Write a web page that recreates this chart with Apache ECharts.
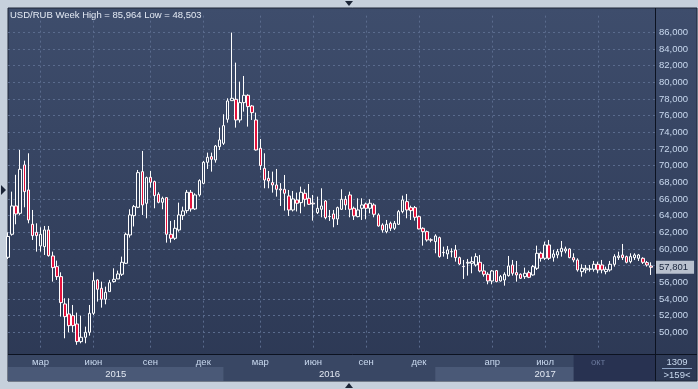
<!DOCTYPE html>
<html><head><meta charset="utf-8">
<script src="https://cdn.jsdelivr.net/npm/echarts@6/dist/echarts.min.js"></script>
<style>html,body{margin:0;padding:0;background:#c6d0dc}#c{width:698px;height:389px}</style>
</head><body><div id="c"></div>
<script>
const titleText = 'USD/RUB Week High = 85,964 Low = 48,503';
const firstWeek = '2014-12-29';
const opens = [
59.0,61.76,65.16,64.28,70.08,67.08,62.96,62.0,60.36,60.28,
62.28,59.16,57.88,56.68,53.4,52.2,52.0,51.0,48.88,49.4,
50.0,52.28,56.28,55.28,53.96,54.88,56.08,56.4,56.96,58.28,
61.68,64.0,65.0,69.28,65.48,68.6,68.08,66.56,65.6,66.16,
61.76,61.28,62.28,64.0,64.6,66.8,64.8,66.48,67.88,70.4,
71.08,70.68,72.28,72.68,75.56,77.8,77.96,75.48,77.56,78.44,
77.16,75.48,72.08,69.68,68.48,67.96,67.68,67.2,67.16,66.36,
64.68,65.88,65.56,66.68,66.08,65.5,64.36,64.76,65.76,63.9,
64.2,63.6,64.76,65.96,66.48,64.88,63.88,64.88,65.4,64.88,
65.28,64.08,62.88,62.08,63.08,62.48,62.96,64.48,65.68,64.96,
64.96,63.88,62.48,62.08,61.1,60.88,61.36,59.6,59.4,59.66,
59.88,58.96,57.9,58.3,58.28,58.08,58.4,57.36,56.96,56.16,
57.4,56.16,56.28,56.8,58.08,57.16,56.96,56.68,57.16,56.88,
57.68,59.48,58.88,60.48,59.0,59.28,59.68,59.76,60.0,58.96,
58.68,57.28,57.48,57.56,57.56,58.16,58.08,57.28,57.48,58.16,
58.96,59.28,59.08,58.48,58.96,58.88,58.88,58.36,57.96];
const closes = [
61.5,65.16,64.2,69.56,66.88,63.48,61.6,61.6,61.76,62.28,
59.2,57.76,56.68,53.56,51.88,50.8,50.8,48.88,49.4,50.0,
52.28,56.2,55.16,53.96,54.8,55.96,56.36,57.0,58.4,61.76,
64.08,65.08,69.16,65.28,68.56,68.0,66.4,65.6,66.08,61.76,
61.28,62.48,64.08,64.56,66.8,64.8,66.48,68.2,70.4,71.0,
70.76,72.36,73.08,74.8,77.76,78.08,75.48,77.56,78.44,77.08,
76.36,71.88,70.0,68.28,68.16,67.68,67.16,67.08,66.68,64.68,
66.0,65.48,66.8,65.96,65.36,65.4,64.88,65.16,63.76,63.88,
63.6,64.96,65.96,65.28,64.76,63.96,64.68,65.28,64.88,65.48,
64.16,62.76,62.28,62.96,62.48,63.08,64.48,65.88,64.68,64.6,
63.8,62.4,62.08,61.08,61.06,61.56,59.08,59.56,59.88,59.68,
58.96,58.2,57.88,58.4,58.48,59.08,57.36,56.96,56.16,57.36,
56.08,56.68,56.96,57.96,57.08,56.88,56.48,57.08,56.6,57.88,
59.48,58.88,60.48,58.88,59.4,59.68,60.08,60.0,58.96,58.68,
57.48,57.68,57.68,57.6,58.16,57.48,57.48,57.56,58.16,59.08,
59.16,58.96,58.4,59.08,59.28,59.28,58.4,58.08,57.801];
const lows = [
58.8,61.6,62.96,64.08,65.0,63.08,61.08,59.68,59.68,59.28,
59.08,56.08,56.28,51.88,49.28,50.0,50.0,48.503,48.68,48.68,
49.6,52.08,53.68,52.96,53.36,54.88,55.96,56.4,56.76,58.2,
61.36,62.7,64.9,64.08,63.68,67.36,64.88,65.48,64.76,60.76,
60.76,61.08,62.08,63.48,64.28,64.48,64.68,66.28,67.76,69.6,
69.28,70.36,71.88,72.48,75.16,77.8,74.56,75.16,76.48,74.68,
75.48,71.8,69.48,67.28,67.28,66.76,66.28,65.16,64.6,63.96,
64.5,64.5,64.28,65.08,65.28,63.4,64.2,63.8,63.56,63.36,
62.6,62.88,64.68,64.68,63.8,63.48,63.8,63.48,63.56,64.28,
63.8,62.68,61.96,61.88,62.16,62.28,62.88,64.28,63.68,63.48,
63.4,62.36,60.4,60.88,60.8,59.48,58.96,59.08,58.8,59.0,
58.48,58.08,56.4,56.8,57.08,57.88,57.2,56.68,55.76,55.76,
56.0,56.08,55.6,56.68,56.8,56.08,56.4,56.4,56.5,56.8,
57.48,58.48,58.68,58.68,58.48,58.88,59.08,59.48,58.88,58.4,
57.28,56.68,57.08,57.28,57.28,57.08,57.08,56.96,57.28,57.88,
58.68,58.68,58.28,58.28,58.68,58.56,58.2,57.88,56.88];
const highs = [
62.0,66.88,68.9,71.88,70.6,71.48,64.68,63.08,62.6,62.76,
62.76,59.68,58.6,57.2,54.08,54.08,53.28,52.36,52.0,50.68,
53.28,57.2,56.36,56.08,55.48,56.28,57.68,57.4,59.08,61.96,
64.76,65.28,69.48,71.76,68.68,69.36,68.2,66.8,66.28,66.2,
63.36,63.48,65.56,65.08,67.08,67.08,66.68,68.36,70.56,71.56,
71.56,72.48,74.56,76.16,78.08,85.964,82.36,80.08,80.76,78.56,
77.28,76.36,73.2,71.48,69.36,69.28,69.6,67.9,68.88,67.08,
66.96,66.76,67.48,67.16,67.8,66.48,66.28,67.28,65.88,64.68,
64.68,65.08,67.16,66.36,66.88,65.08,66.08,66.08,65.56,65.96,
65.48,64.28,63.08,63.48,63.28,63.36,64.68,66.4,66.6,65.2,
65.16,64.0,62.6,62.2,61.28,61.76,61.48,60.28,60.36,60.08,
60.48,59.08,58.68,58.8,59.08,59.48,59.28,58.16,57.2,57.48,
57.48,56.88,57.2,59.16,58.68,58.56,57.08,57.76,57.4,58.08,
60.4,59.68,60.88,61.08,59.88,60.0,60.96,60.28,60.08,59.48,
58.88,58.16,58.08,58.08,58.56,58.48,58.68,57.88,58.56,59.36,
59.68,60.6,59.2,59.48,59.48,59.4,59.0,58.56,58.4];
const monthTickWeeks = ['2015-02-23','2015-05-25','2015-08-31','2015-11-30','2016-03-07','2016-06-06','2016-09-05','2016-12-05','2017-04-10','2017-07-10','2017-10-09'];
const monthTickLabels = ['мар','июн','сен','дек','мар','июн','сен','дек','апр','июл','окт'];
const yearLabels = ['2015','2016','2017'];
const dimFromWeek = '2017-08-28';
const lastPrice = 57.801;
const cornerTop = '1309';
const cornerBottom = '>159<';

// weekly categories (one extra empty slot at the right edge)
const weeks = [];
{
  const t0 = Date.parse(firstWeek + 'T00:00:00Z');
  for (let i = 0; i < opens.length + 1; i++) weeks.push(new Date(t0 + i * 7 * 864e5).toISOString().slice(0, 10));
}
const candles = opens.map((o, i) => [o, closes[i], lows[i], highs[i]]);
const monthIdx = monthTickWeeks.map(w => weeks.indexOf(w));
const yearStart = yearLabels.map((y, k) => k === 0 ? 0 : weeks.findIndex(w => w.startsWith(y)));
const lastIdx = weeks.length - 1;
const dimIdx = weeks.indexOf(dimFromWeek);

const fmt = v => v.toFixed(3).replace('.', ',');
const FONT = 'Liberation Sans';
const txt = '#c9d9ef';
const panelGrad = new echarts.graphic.LinearGradient(0, 0, 0, 1, [{offset: 0, color: '#3e4d6c'}, {offset: 1, color: '#2c3854'}]);
const bandLight = '#4a5977', bandDark = '#394764', dimCol = '#283251';

const chart = echarts.init(document.getElementById('c'), null, {renderer: 'canvas'});
chart.setOption({
  animation: false,
  backgroundColor: '#c6d0dc',
  title: {text: titleText, left: 10, top: 10, padding: 0,
    textStyle: {color: '#e4eaf4', fontSize: 9.5, fontWeight: 'normal', fontFamily: FONT}},
  graphic: [
    {type: 'rect', z: -10, silent: true, shape: {x: 8, y: 8, width: 689, height: 373}, style: {fill: panelGrad, stroke: '#1e2638', lineWidth: 1}},
    {type: 'line', z: 50, silent: true, shape: {x1: 655.5, y1: 8, x2: 655.5, y2: 381}, style: {stroke: '#0c1220', lineWidth: 1}},
    {type: 'line', z: 50, silent: true, shape: {x1: 8, y1: 354.5, x2: 697, y2: 354.5}, style: {stroke: '#0c1220', lineWidth: 1}},
    {type: 'polygon', silent: true, shape: {points: [[345, 1], [353, 1], [349, 6]]}, style: {fill: '#1b2436'}},
    {type: 'polygon', silent: true, shape: {points: [[345, 388], [353, 388], [349, 383]]}, style: {fill: '#1b2436'}},
    {type: 'polygon', silent: true, shape: {points: [[1, 185], [1, 195], [6, 190]]}, style: {fill: '#1b2436'}},
    {type: 'text', silent: true, style: {text: cornerTop, x: 677, y: 362, align: 'center', verticalAlign: 'middle', fill: txt, font: '9.5px ' + FONT}},
    {type: 'line', silent: true, shape: {x1: 662, y1: 368.5, x2: 692, y2: 368.5}, style: {stroke: '#8ea3c4', lineWidth: 1}},
    {type: 'text', silent: true, style: {text: cornerBottom, x: 677, y: 375, align: 'center', verticalAlign: 'middle', fill: txt, font: '9.5px ' + FONT}}
  ],
  grid: [
    {left: 8, right: 43, top: 15.63, height: 333.33, containLabel: false, outerBoundsMode: 'none'},
    {left: 8, right: 43, top: 355, height: 26, containLabel: false, outerBoundsMode: 'none', show: true, backgroundColor: bandDark, borderWidth: 0}
  ],
  xAxis: [
    {type: 'category', gridIndex: 0, data: weeks, boundaryGap: false,
      axisLine: {show: false}, axisTick: {show: false}, axisLabel: {show: false},
      splitLine: {show: true, interval: (i) => monthIdx.includes(i), lineStyle: {color: '#5a6b8d', type: [2, 3], width: 1}}},
    {type: 'category', gridIndex: 1, data: weeks, boundaryGap: false, position: 'top', z: 20,
      axisLine: {show: false}, axisTick: {show: false}, splitLine: {show: false},
      axisLabel: {show: true, inside: true, margin: 2, interval: (i) => monthIdx.includes(i),
        formatter: (v, i) => {
          const k = monthIdx.indexOf(i);
          if (k < 0) return '';
          return (i >= dimIdx ? '{d|' : '{n|') + monthTickLabels[k] + '}';
        },
        rich: {n: {color: txt, fontSize: 9.5, fontFamily: FONT}, d: {color: '#69779a', fontSize: 9.5, fontFamily: FONT}},
        color: txt, fontSize: 9.5, fontFamily: FONT}}
  ],
  yAxis: [
    {type: 'value', gridIndex: 0, position: 'right', min: 48, max: 88, interval: 2,
      axisLine: {show: false}, axisTick: {show: false},
      axisLabel: {show: true, margin: 4, color: txt, fontSize: 9.5, fontFamily: FONT, showMinLabel: false, showMaxLabel: false,
        formatter: v => (Math.abs(v - lastPrice) < 1 ? '' : fmt(v))},
      splitLine: {show: true, showMinLine: false, showMaxLine: false, lineStyle: {color: '#5a6b8d', type: [2, 3], width: 1}}},
    {type: 'value', gridIndex: 1, min: 0, max: 26, show: false}
  ],
  series: [
    {type: 'candlestick', name: 'USD/RUB', xAxisIndex: 0, yAxisIndex: 0, data: candles, barWidth: 3, clip: true,
      itemStyle: {color: '#35435f', color0: '#e3123c', borderColor: '#ffffff', borderColor0: '#ffffff', borderWidth: 1},
      markLine: {silent: true, symbol: ['none', 'none'], animation: false,
        lineStyle: {color: 'rgba(0,0,0,0)', width: 1},
        label: {show: true, position: 'end', distance: 1, formatter: () => fmt(lastPrice), backgroundColor: '#b9c1ce', color: '#18243b',
          padding: [2, 6, 1, 3], fontSize: 9.5, fontFamily: FONT},
        data: [{yAxis: lastPrice}]}},
    {type: 'line', xAxisIndex: 1, yAxisIndex: 1, data: [], silent: true, z: 1,
      markArea: {silent: true,
        label: {show: true, position: 'inside', color: '#e3e9f3', fontSize: 9.5, fontFamily: FONT},
        data: [
          [{xAxis: yearStart[0], yAxis: 0, name: yearLabels[0], itemStyle: {color: bandLight}}, {xAxis: yearStart[1], yAxis: 14}],
          [{xAxis: yearStart[1], yAxis: 0, name: yearLabels[1], itemStyle: {color: bandDark}}, {xAxis: yearStart[2], yAxis: 14}],
          [{xAxis: yearStart[2], yAxis: 0, name: yearLabels[2], itemStyle: {color: bandLight}}, {xAxis: lastIdx, yAxis: 14}],
          [{xAxis: dimIdx, yAxis: 0, name: '', itemStyle: {color: dimCol}, label: {show: false}}, {xAxis: lastIdx, yAxis: 26}]
        ]}}
  ]
});
</script></body></html>
